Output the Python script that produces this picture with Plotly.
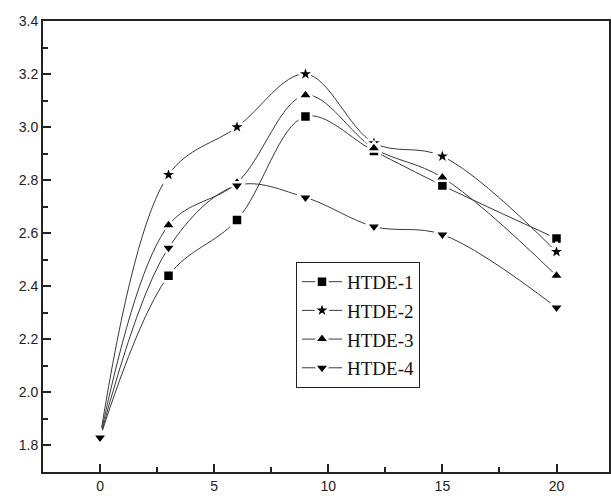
import plotly.graph_objects as go

x_vals = [0, 3, 6, 9, 12, 15, 20]
htde1 = [1.83, 2.44, 2.65, 3.04, 2.91, 2.78, 2.58]
htde2 = [1.83, 2.82, 3.00, 3.20, 2.94, 2.89, 2.53]
htde3 = [1.83, 2.63, 2.79, 3.12, 2.92, 2.81, 2.44]
htde4 = [1.83, 2.545, 2.78, 2.735, 2.625, 2.595, 2.32]
names = ["HTDE-1", "HTDE-2", "HTDE-3", "HTDE-4"]
symbols = ["square", "star", "triangle-up", "triangle-down"]
sizes = [11, 14, 13, 13]
series = [htde1, htde2, htde3, htde4]

LINE_C = "#3a3a3a"
TICK_C = "#222"
fig = go.Figure()
for name, ys, sym, sz in zip(names, series, symbols, sizes):
    fig.add_trace(go.Scatter(
        x=x_vals, y=ys, name=name, mode="lines+markers", legendgroup=name,
        line=dict(color=LINE_C, width=1, shape="spline", smoothing=1.0),
        marker=dict(symbol=sym, size=sz, color="black",
                    line=dict(color="white", width=2.5)),
        showlegend=True,
    ))
for name, ys, sym, sz in zip(names, series, symbols, sizes):
    fig.add_trace(go.Scatter(
        x=x_vals, y=ys, mode="markers", showlegend=False, hoverinfo="skip",
        marker=dict(symbol=sym, size=sz, color="black",
                    line=dict(color="white", width=2.5)),
    ))

axis_font = dict(family="Liberation Sans, Arial, sans-serif", size=14, color="#222")
fig.update_xaxes(
    range=[-2.5, 22.3], tickvals=[0, 5, 10, 15, 20],
    ticks="inside", ticklen=8, tickwidth=1.5, tickcolor=TICK_C,
    minor=dict(tickvals=[2.5, 7.5, 12.5, 17.5], ticks="inside", ticklen=5, tickwidth=1.5, tickcolor=TICK_C),
    showline=True, linecolor="#222", linewidth=2, mirror=True,
    showgrid=False, zeroline=False, tickfont=axis_font,
)
fig.update_yaxes(
    range=[1.7, 3.4], tickvals=[1.8, 2.0, 2.2, 2.4, 2.6, 2.8, 3.0, 3.2, 3.4],
    ticktext=["1.8", "2.0", "2.2", "2.4", "2.6", "2.8", "3.0", "3.2", "3.4"],
    ticks="inside", ticklen=8, tickwidth=1.5, tickcolor=TICK_C,
    minor=dict(tickvals=[1.9, 2.1, 2.3, 2.5, 2.7, 2.9, 3.1, 3.3], ticks="inside", ticklen=5, tickwidth=1.5, tickcolor=TICK_C),
    showline=True, linecolor="#222", linewidth=2, mirror=True,
    showgrid=False, zeroline=False, tickfont=axis_font,
)
fig.update_layout(
    width=611, height=496,
    margin=dict(l=43, r=0, t=21, b=24),
    paper_bgcolor="white", plot_bgcolor="white",
    legend=dict(
        x=0.447, y=0.466, xanchor="left", yanchor="top",
        bgcolor="white", bordercolor="#222", borderwidth=1,
        font=dict(family="Liberation Serif, Times New Roman, serif", size=19, color="#111"),
        itemwidth=40, tracegroupgap=1,
    ),
)
fig.write_html("out.html")
